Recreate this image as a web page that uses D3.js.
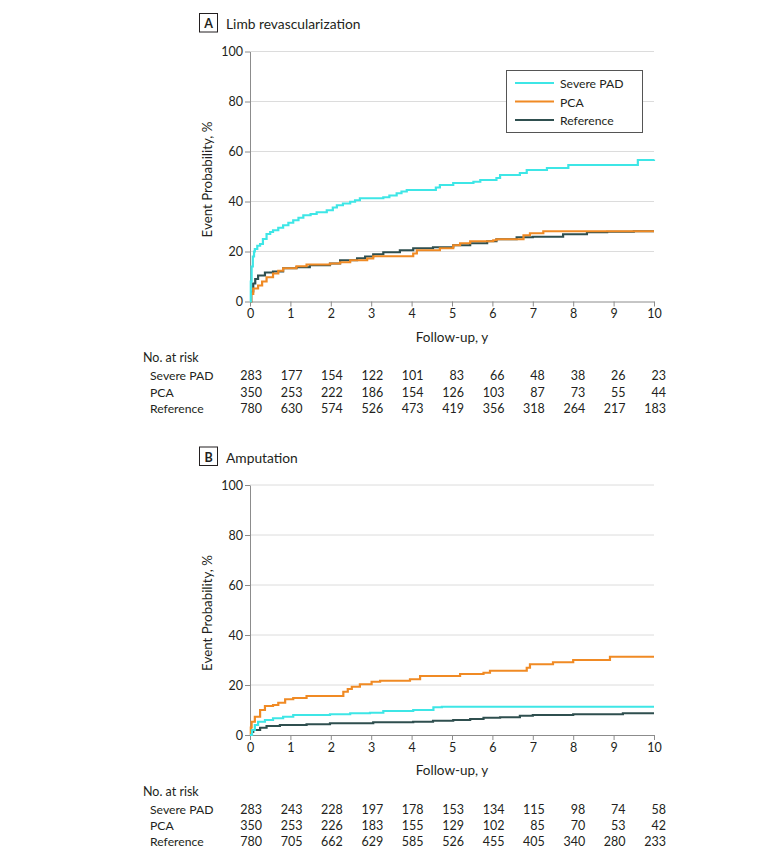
<!DOCTYPE html>
<html>
<head>
<meta charset="utf-8">
<script src="https://cdn.jsdelivr.net/npm/d3@7"></script>
<style>
body { margin: 0; background: #fff; }
svg text { font-family: Lato, "Noto Sans", sans-serif; fill: #231f20; }
</style>
</head>
<body>
<svg id="drawing_region"></svg>
<script>
// follow-up years and y ticks
const years = [0, 1, 2, 3, 4, 5, 6, 7, 8, 9, 10];
const yTicks = [0, 20, 40, 60, 80, 100];
const groups = ['Severe PAD', 'PCA', 'Reference'];
const groupColors = ['#3ee6e6', '#f08a24', '#2f4f4f'];

// A: limb revascularization, [year, %]
const limbSevere = [[0,0],[0.02,8],[0.04,14],[0.07,18],[0.1,20],[0.12,21],[0.18,22.3],[0.25,23],[0.32,25],[0.41,27],[0.5,27.8],[0.57,28.5],[0.7,29.5],[0.82,30.5],[0.95,31.5],[1.07,32.5],[1.2,33.5],[1.32,34.5],[1.5,35],[1.65,35.7],[1.9,36.5],[2.05,37.6],[2.15,38.5],[2.3,39.2],[2.48,39.9],[2.6,40.5],[2.72,41.3],[3.3,41.7],[3.45,42.4],[3.63,43.3],[3.75,44],[3.88,44.6],[4.53,44.6],[4.6,45.6],[4.7,46.6],[5.03,47.4],[5.53,47.9],[5.7,48.6],[6.1,49.4],[6.19,50.6],[6.68,51.4],[6.85,52.6],[7.35,53.4],[7.88,54.6],[9.6,56.6],[10,56.8]];
const limbPca = [[0,0],[0.03,3],[0.08,5.2],[0.2,6.4],[0.3,8],[0.41,9.7],[0.57,11.2],[0.7,12.3],[0.82,13.3],[1.15,14.1],[1.4,14.8],[1.98,15.2],[2.23,15.7],[2.48,16.5],[2.9,17.2],[3.05,18.1],[3.84,18.1],[4.04,19.2],[4.13,20.5],[4.7,21.3],[5.03,22.5],[5.2,23.3],[5.45,24.1],[6.02,24.5],[6.1,24.9],[6.77,26.5],[6.93,27.3],[7.26,28.1],[10,28.1]];
const limbRef = [[0,0],[0.03,4],[0.08,7.2],[0.13,9],[0.2,10.4],[0.37,11.6],[0.57,12],[0.82,13.3],[1.15,13.7],[1.48,14.5],[1.98,15.2],[2.23,16.5],[2.65,17.3],[2.85,18],[3.05,18.9],[3.3,19.7],[3.71,20.5],[4.04,21.3],[4.53,21.7],[5.03,22.5],[5.45,23.3],[5.87,24.1],[6.1,24.9],[6.6,25.7],[7.0,25.9],[7.75,26.9],[8.34,27.7],[8.84,27.9],[9.5,28.1],[10,28.1]];

// B: amputation, [year, %]
const ampSevere = [[0,0],[0.05,2],[0.12,4],[0.2,5.3],[0.37,6],[0.57,6.7],[0.82,7.3],[1.07,8],[1.98,8.3],[2.48,8.7],[2.97,8.9],[3.3,9.6],[4.04,10],[4.54,11.1],[4.75,11.3],[10,11.3]];
const ampPca = [[0,0],[0.02,3],[0.04,5.3],[0.12,7.3],[0.25,10],[0.37,11.6],[0.57,12],[0.7,12.9],[0.87,14.3],[1.07,14.8],[1.4,15.6],[2.23,15.6],[2.31,17.3],[2.42,18.4],[2.52,19.3],[2.72,20.3],[3.01,21.3],[3.22,21.7],[3.96,22.3],[4.21,23.6],[5.2,24.4],[5.78,24.9],[5.94,25.7],[6.73,25.7],[6.85,26.9],[6.93,28.3],[7.5,29.1],[8.0,30],[8.91,31.3],[10,31.3]];
const ampRef = [[0,0],[0.03,1.2],[0.08,2],[0.25,2.9],[0.41,3.6],[0.74,4],[1.4,4.3],[1.98,4.7],[3.05,5.1],[4.04,5.3],[4.53,5.7],[5.03,6],[5.45,6.4],[5.78,6.9],[6.19,7.1],[6.68,7.7],[7.0,8],[8.0,8.3],[9.23,8.7],[10,8.7]];

// numbers at risk
const limbRiskSevere = [283, 177, 154, 122, 101, 83, 66, 48, 38, 26, 23];
const limbRiskPca = [350, 253, 222, 186, 154, 126, 103, 87, 73, 55, 44];
const limbRiskRef = [780, 630, 574, 526, 473, 419, 356, 318, 264, 217, 183];
const ampRiskSevere = [283, 243, 228, 197, 178, 153, 134, 115, 98, 74, 58];
const ampRiskPca = [350, 253, 226, 183, 155, 129, 102, 85, 70, 53, 42];
const ampRiskRef = [780, 705, 662, 629, 585, 526, 455, 405, 340, 280, 233];

class KMChart {
    constructor(svg, config) {
        this.svg = svg;
        this.config = config;
        this.init();
    }

    init() {
        let self = this;
        const c = self.config;

        self.xscale = d3.scaleLinear().domain([0, 10]).range([250, 654]);
        self.yscale = d3.scaleLinear().domain([0, 100]).range([c.top + 250, c.top]);

        self.g = self.svg.append('g');

        // panel letter + title
        self.g.append('rect')
            .attr('x', 199.5).attr('y', c.top - 38)
            .attr('width', 18).attr('height', 18.5)
            .attr('fill', 'none').attr('stroke', '#231f20').attr('stroke-width', 1);
        self.g.append('text')
            .attr('x', 208.5).attr('y', c.top - 23.5)
            .attr('text-anchor', 'middle')
            .style('font-size', '12.5px').style('font-weight', 'bold')
            .text(c.letter);
        self.g.append('text')
            .attr('x', 226).attr('y', c.top - 22.5)
            .style('font-size', '13.8px')
            .text(c.title);

        // gridlines
        self.g.selectAll('.grid')
            .data(yTicks.filter(d => d > 0))
            .enter().append('line')
            .attr('x1', self.xscale(0)).attr('x2', self.xscale(10))
            .attr('y1', d => self.yscale(d)).attr('y2', d => self.yscale(d))
            .attr('stroke', '#dcdcdc').attr('stroke-width', 1);
    }

    render() {
        let self = this;
        const c = self.config;

        const yaxis = d3.axisLeft(self.yscale).tickValues(yTicks).tickSize(5).tickSizeOuter(0).tickPadding(2);
        const xaxis = d3.axisBottom(self.xscale).tickValues(years).tickSize(5).tickSizeOuter(0).tickPadding(3);

        const yg = self.g.append('g')
            .attr('transform', `translate(${self.xscale(0)},0)`)
            .call(yaxis);
        const xg = self.g.append('g')
            .attr('transform', `translate(0,${self.yscale(0)})`)
            .call(xaxis);
        [yg, xg].forEach(a => {
            a.attr('font-family', null).attr('font-size', null);
            a.selectAll('path, line').attr('stroke', '#8c8c8c');
            a.selectAll('text').style('font-size', '12.5px').attr('fill', '#231f20');
        });

        self.g.append('text')
            .attr('transform', `translate(212,${(self.yscale(0) + self.yscale(100)) / 2 + 3}) rotate(-90)`)
            .attr('text-anchor', 'middle')
            .style('font-size', '13.3px')
            .text('Event Probability, %');
        self.g.append('text')
            .attr('x', (self.xscale(0) + self.xscale(10)) / 2)
            .attr('y', self.yscale(0) + 40)
            .attr('text-anchor', 'middle')
            .style('font-size', '13.5px')
            .text('Follow-up, y');

        const line = d3.line()
            .x(d => self.xscale(d[0]))
            .y(d => self.yscale(d[1]))
            .curve(d3.curveStepAfter);

        // draw reference first so others are on top
        [2, 1, 0].forEach(i => {
            self.g.append('path')
                .datum(c.series[i])
                .attr('d', line)
                .attr('fill', 'none')
                .attr('stroke', groupColors[i])
                .attr('stroke-width', 2.2);
        });

        if (c.legend) {
            const lg = self.g.append('g');
            lg.append('rect')
                .attr('x', 506.5).attr('y', 70.5).attr('width', 136).attr('height', 62)
                .attr('fill', '#fff').attr('stroke', '#555').attr('stroke-width', 1);
            groups.forEach((name, i) => {
                const yy = 83 + i * 18.5;
                lg.append('line')
                    .attr('x1', 515).attr('x2', 554).attr('y1', yy).attr('y2', yy)
                    .attr('stroke', groupColors[i]).attr('stroke-width', 2.2);
                lg.append('text')
                    .attr('x', 560).attr('y', yy + 5)
                    .style('font-size', '12.2px')
                    .text(name);
            });
        }

        // number at risk table
        const base = self.yscale(0);
        self.g.append('text')
            .attr('x', 143).attr('y', base + 60.5)
            .style('font-size', '12.5px')
            .text('No. at risk');
        groups.forEach((name, i) => {
            const yy = base + 78.8 + i * 16.3;
            self.g.append('text')
                .attr('x', 150).attr('y', yy)
                .style('font-size', '12.2px')
                .text(name);
            self.g.selectAll(null)
                .data(c.risk[i])
                .enter().append('text')
                .attr('x', (d, j) => self.xscale(years[j]) + 12)
                .attr('y', yy)
                .attr('text-anchor', 'end')
                .style('font-size', '12.5px')
                .text(d => d);
        });
    }
}

const svg = d3.select('#drawing_region')
    .attr('width', 780)
    .attr('height', 861);

const chartA = new KMChart(svg, {
    top: 51.5,
    letter: 'A',
    title: 'Limb revascularization',
    series: [limbSevere, limbPca, limbRef],
    risk: [limbRiskSevere, limbRiskPca, limbRiskRef],
    legend: true
});
chartA.render();

const chartB = new KMChart(svg, {
    top: 485,
    letter: 'B',
    title: 'Amputation',
    series: [ampSevere, ampPca, ampRef],
    risk: [ampRiskSevere, ampRiskPca, ampRiskRef],
    legend: false
});
chartB.render();
</script>
</body>
</html>
